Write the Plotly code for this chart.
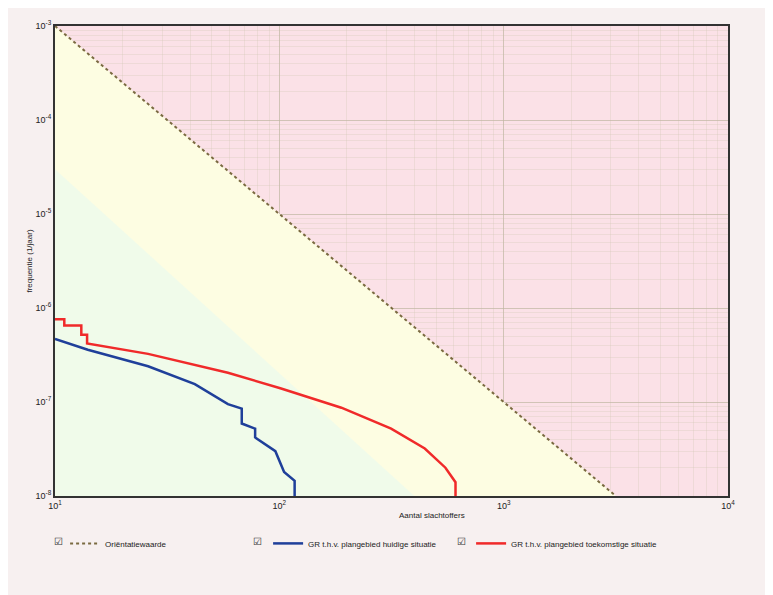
import plotly.graph_objects as go

# orientation value: F = 0.1 / N^2
orient_n = [10, 3162]
orient_f = [1e-3, 1e-8]

blue_n = [10, 14, 26, 42, 59, 68, 68, 78, 78, 96, 105, 117, 117]
blue_f = [4.7e-7, 3.6e-7, 2.4e-7, 1.55e-7, 9.5e-8, 8.5e-8, 5.9e-8, 5.2e-8, 4.2e-8, 3.0e-8, 1.8e-8, 1.45e-8, 1e-8]

red_n = [10, 11, 11, 13.1, 13.1, 13.9, 13.9, 26, 59, 101, 189, 315, 445, 550, 610, 610]
red_f = [7.6e-7, 7.6e-7, 6.5e-7, 6.5e-7, 5.2e-7, 5.2e-7, 4.2e-7, 3.25e-7, 2.05e-7, 1.4e-7, 8.7e-8, 5.2e-8,
         3.2e-8, 2.0e-8, 1.4e-8, 1e-8]

x_ticks = [10, 100, 1000, 10000]
x_labels = ["10<sup>1</sup>", "10<sup>2</sup>", "10<sup>3</sup>", "10<sup>4</sup>"]
y_ticks = [1e-3, 1e-4, 1e-5, 1e-6, 1e-7, 1e-8]
y_labels = ["10<sup>-3</sup>", "10<sup>-4</sup>", "10<sup>-5</sup>", "10<sup>-6</sup>", "10<sup>-7</sup>", "10<sup>-8</sup>"]

fig = go.Figure()
# background zones
fig.add_trace(go.Scatter(x=[10, 3162, 10], y=[1e-3, 1e-8, 1e-8], fill='toself', mode='none',
                         fillcolor='#fdfde2', showlegend=False, hoverinfo='skip'))
fig.add_trace(go.Scatter(x=[10, 400, 10], y=[3e-5, 1e-8, 1e-8], fill='toself', mode='none',
                         fillcolor='rgba(232,250,240,0.6)', showlegend=False, hoverinfo='skip'))

fig.add_trace(go.Scatter(x=orient_n, y=orient_f, mode='lines', name='Oriëntatiewaarde',
                         line=dict(color='#7a6a40', width=2, dash='dot')))
fig.add_trace(go.Scatter(x=blue_n, y=blue_f, mode='lines',
                         name='GR t.h.v. plangebied huidige situatie', line=dict(color='#1f3f9a', width=2.5)))
fig.add_trace(go.Scatter(x=red_n, y=red_f, mode='lines',
                         name='GR t.h.v. plangebied toekomstige situatie', line=dict(color='#f02a2a', width=2.5)))

axis_common = dict(type='log', showline=True, linecolor='#333', linewidth=2, mirror=True,
                   gridcolor='rgba(190,180,160,0.6)', zeroline=False, ticks='',
                   tickfont=dict(size=9, color='#222', family='Liberation Sans'),
                   minor=dict(showgrid=True, dtick='D1', gridcolor='rgba(210,200,180,0.3)'))

fig.update_xaxes(range=[1, 4], tickvals=x_ticks, ticktext=x_labels, **axis_common)
fig.update_yaxes(range=[-8, -3], tickvals=y_ticks, ticktext=y_labels,
                 title=dict(text='frequentie (1/jaar)', font=dict(size=8, color='#222'), standoff=2),
                 **axis_common)

fig.add_annotation(text='Aantal slachtoffers', x=0.56, y=-0.055, xref='paper', yref='paper',
                   showarrow=False, font=dict(size=8, color='#222', family='Liberation Sans'))
for xp in [-0.005, 0.291, 0.595]:
    fig.add_annotation(text='☑', x=xp, y=-0.097, xref='paper', yref='paper', xanchor='left', yanchor='middle',
                       showarrow=False, font=dict(size=10, color='#333'))

fig.update_layout(width=773, height=595, margin=dict(l=47, r=53, t=18, b=107),
                  paper_bgcolor='#f7f0f0', plot_bgcolor='#fbe1e7',
                  font=dict(family='Liberation Sans'),
                  legend=dict(orientation='h', x=0.015, y=-0.07, xanchor='left', yanchor='top',
                              font=dict(size=8, color='#222'), bgcolor='rgba(0,0,0,0)',
                              entrywidth=158, entrywidthmode='pixels', itemwidth=30))

fig.write_html("out.html")
